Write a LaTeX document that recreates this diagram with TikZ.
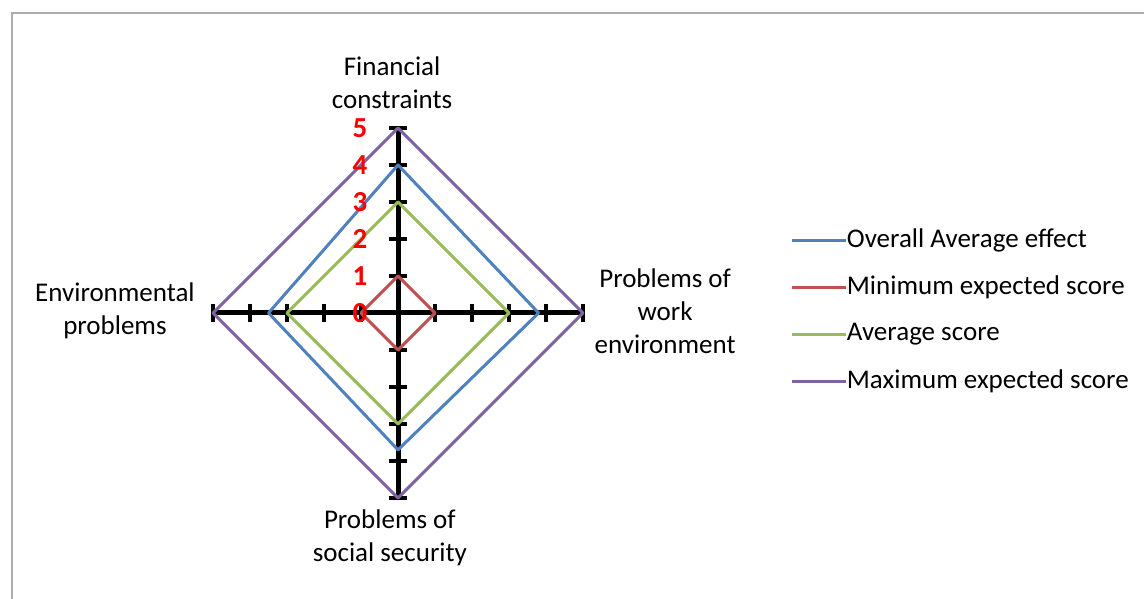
\documentclass[tikz,border=0pt]{standalone}
\usepackage{fontspec}
\setmainfont{Carlito}
\usepackage{xcolor}
\usetikzlibrary{positioning,calc}

\definecolor{overallblue}{HTML}{4F81BD}
\definecolor{minred}{HTML}{C0504D}
\definecolor{avggreen}{HTML}{9BBB59}
\definecolor{maxpurple}{HTML}{8064A2}

\tikzset{
    series/.style={line width=3pt, line join=round},
    category/.style={align=center, font=\fontsize{27}{33}\selectfont},
    legendtext/.style={right, inner sep=1pt, font=\fontsize{27}{33}\selectfont},
    scalelabel/.style={anchor=east, text=red, inner sep=1pt, font=\fontsize{29}{29}\bfseries\selectfont}
}

\begin{document}
\begin{tikzpicture}[x=37pt, y=37pt]
    \useasboundingbox (-10.757,-7.730) rectangle (20.162,8.459);

    % Chart frame
    \draw[gray!65, line width=2pt] (-10.43,-8) -- (-10.43,8.11) -- (20.5,8.11);

    % Axes
    \draw[line width=5pt] (0,-5) -- (0,5);
    \draw[line width=5pt] (-5,0) -- (5,0);
    \foreach \k in {1,...,5} {
        \draw[line width=4pt] (-0.25,\k) -- (0.25,\k);
        \draw[line width=4pt] (-0.25,-\k) -- (0.25,-\k);
        \draw[line width=4pt] (\k,-0.25) -- (\k,0.25);
        \draw[line width=4pt] (-\k,-0.25) -- (-\k,0.25);
    }

    % Series
    \draw[series, overallblue] (0,4) -- (3.8,0) -- (0,-3.7) -- (-3.5,0) -- cycle;
    \draw[series, minred] (0,1) -- (1,0) -- (0,-1) -- (-1,0) -- cycle;
    \draw[series, avggreen] (0,3) -- (3,0) -- (0,-3) -- (-3,0) -- cycle;
    \draw[series, maxpurple] (0,5) -- (5,0) -- (0,-5) -- (-5,0) -- cycle;

    % Scale labels
    \foreach \k in {0,...,5} {
        \node[scalelabel] (s\k) at (-0.8,\k) {\k};
    }

    % Category labels
    \node[category] (financial) at (-0.16,6.22) {Financial\\constraints};
    \node[category] (workenv) at (7.22,0.05) {Problems of\\work\\environment};
    \node[category] (social) at (-0.22,-6.08) {Problems of\\social security};
    \node[category] (environ) at (-7.65,0.05) {Environmental\\problems};

    % Legend
    \node[legendtext] (lgoverall) at (12.1,1.97) {Overall Average effect};
    \node[legendtext] (lgmin) at (12.1,0.70) {Minimum expected score};
    \node[legendtext] (lgavg) at (12.1,-0.57) {Average score};
    \node[legendtext] (lgmax) at (12.1,-1.86) {Maximum expected score};
    \coordinate[left=1.45 of lgoverall.west] (kovr);
    \coordinate[left=1.45 of lgmin.west] (kmin);
    \coordinate[left=1.45 of lgavg.west] (kavg);
    \coordinate[left=1.45 of lgmax.west] (kmax);
    \draw[series, overallblue] (kovr) -- (lgoverall.west);
    \draw[series, minred] (kmin) -- (lgmin.west);
    \draw[series, avggreen] (kavg) -- (lgavg.west);
    \draw[series, maxpurple] (kmax) -- (lgmax.west);
\end{tikzpicture}
\end{document}
